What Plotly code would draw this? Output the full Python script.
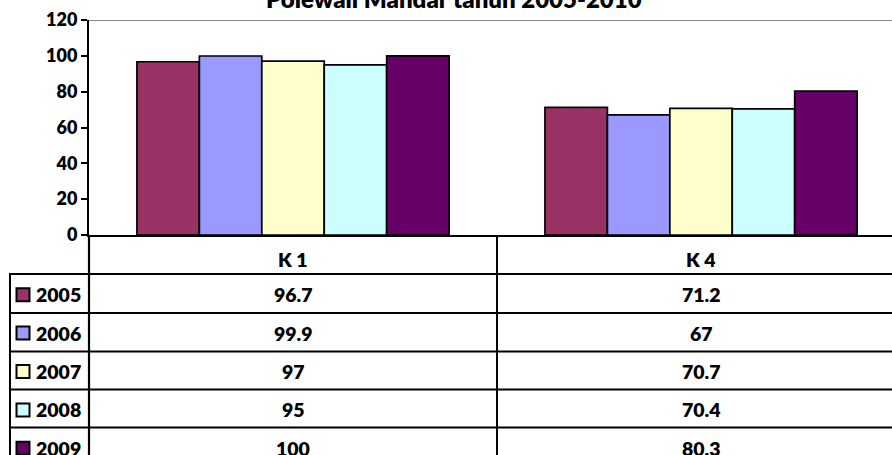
import plotly.graph_objects as go

# ---- data ----
categories = ["K 1", "K 4"]
years = ["2005", "2006", "2007", "2008", "2009"]
v2005 = [96.7, 71.2]
v2006 = [99.9, 67]
v2007 = [97, 70.7]
v2008 = [95, 70.4]
v2009 = [100, 80.3]
series = [v2005, v2006, v2007, v2008, v2009]
colors = ["#993366", "#9999FF", "#FFFFCC", "#CCFFFF", "#660066"]
title_text = "Polewali Mandar tahun 2005-2010"
yticks = [0, 20, 40, 60, 80, 100, 120]

# ---- geometry (page pixels) ----
W, H = 892, 455
AX_X, TOP_Y, ZERO_Y = 89, 20, 235
ML, MT = AX_X, TOP_Y
PH = ZERO_Y - TOP_Y
MB = H - MT - PH
PW = W - ML
xr = [-0.5, 1.468]
FONT = "Lato"

def px2x(px):
    return (px - AX_X) / PW

def py2y(py):
    return (ZERO_Y - py) / PH

def cat2paper(i):
    return (i - xr[0]) / (xr[1] - xr[0])

fig = go.Figure()
for yr, vals, col in zip(years, series, colors):
    fig.add_trace(go.Bar(
        x=categories, y=vals, name=yr,
        marker=dict(color=col, line=dict(color="black", width=1.7)),
    ))

shapes = []
annotations = []

# top border line at 120
shapes.append(dict(type="line", xref="paper", yref="y", x0=0, x1=1.05, y0=120, y1=120,
                   line=dict(color="#888888", width=2)))

# table geometry
row_lines = [274, 313, 351.5, 389.5, 427.5]
row_h = 38.4
left_x = 10
mid_px = AX_X + cat2paper(0.5) * PW
bottom_py = 470

for ly in row_lines:
    shapes.append(dict(type="line", xref="paper", yref="paper",
                       x0=px2x(left_x - 1), x1=px2x(900), y0=py2y(ly), y1=py2y(ly),
                       line=dict(color="black", width=2)))
shapes.append(dict(type="line", xref="paper", yref="paper",
                   x0=px2x(left_x), x1=px2x(left_x), y0=py2y(row_lines[0] - 1), y1=py2y(bottom_py),
                   line=dict(color="black", width=2)))
shapes.append(dict(type="line", xref="paper", yref="paper",
                   x0=0, x1=0, y0=py2y(ZERO_Y), y1=py2y(bottom_py),
                   line=dict(color="black", width=2.2)))
shapes.append(dict(type="line", xref="paper", yref="paper",
                   x0=px2x(mid_px), x1=px2x(mid_px), y0=py2y(ZERO_Y), y1=py2y(bottom_py),
                   line=dict(color="black", width=2)))

tfont = dict(family=FONT, size=19.5, color="black", weight=800)

for i, c in enumerate(categories):
    annotations.append(dict(xref="paper", yref="paper", x=cat2paper(i), y=py2y(259),
                            text=c, showarrow=False, xanchor="center", yanchor="middle",
                            font=tfont))

for r, (yr, vals, col) in enumerate(zip(years, series, colors)):
    cy = row_lines[0] + row_h * r + row_h / 2 + 1.5
    shapes.append(dict(type="rect", xref="paper", yref="paper",
                       x0=px2x(16.5), x1=px2x(29.5), y0=py2y(cy - 6.5), y1=py2y(cy + 6.5),
                       fillcolor=col, line=dict(color="black", width=2)))
    annotations.append(dict(xref="paper", yref="paper", x=px2x(34), y=py2y(cy),
                            text=yr, showarrow=False, xanchor="left", yanchor="middle",
                            font=tfont))
    for i, v in enumerate(vals):
        annotations.append(dict(xref="paper", yref="paper", x=cat2paper(i), y=py2y(cy),
                                text=f"{v:g}", showarrow=False, xanchor="center",
                                yanchor="middle", font=tfont))

# title (partly cut off at the top of the picture)
annotations.append(dict(xref="paper", yref="paper", x=px2x(454), y=py2y(-1),
                        text=title_text, showarrow=False, xanchor="center", yanchor="middle",
                        font=dict(family=FONT, size=24, color="black", weight=800)))

fig.update_layout(
    width=W, height=H,
    margin=dict(l=ML, r=0, t=MT, b=MB, pad=0),
    paper_bgcolor="white", plot_bgcolor="white",
    barmode="group", bargap=0.235, bargroupgap=0,
    showlegend=False,
    shapes=shapes, annotations=annotations,
    xaxis=dict(type="category", range=xr, showticklabels=False, ticks="",
               showline=True, linecolor="black", linewidth=2, showgrid=False, zeroline=False),
    yaxis=dict(range=[0, 120], tickvals=yticks, showgrid=False, zeroline=False,
               showline=True, linecolor="black", linewidth=2,
               ticks="outside", ticklen=6, tickwidth=2, tickcolor="black",
               tickfont=dict(family=FONT, size=18, color="black", weight=800)),
)

fig.write_html("out.html", config={"displayModeBar": False},
               post_script="document.body.style.margin='0px';")
